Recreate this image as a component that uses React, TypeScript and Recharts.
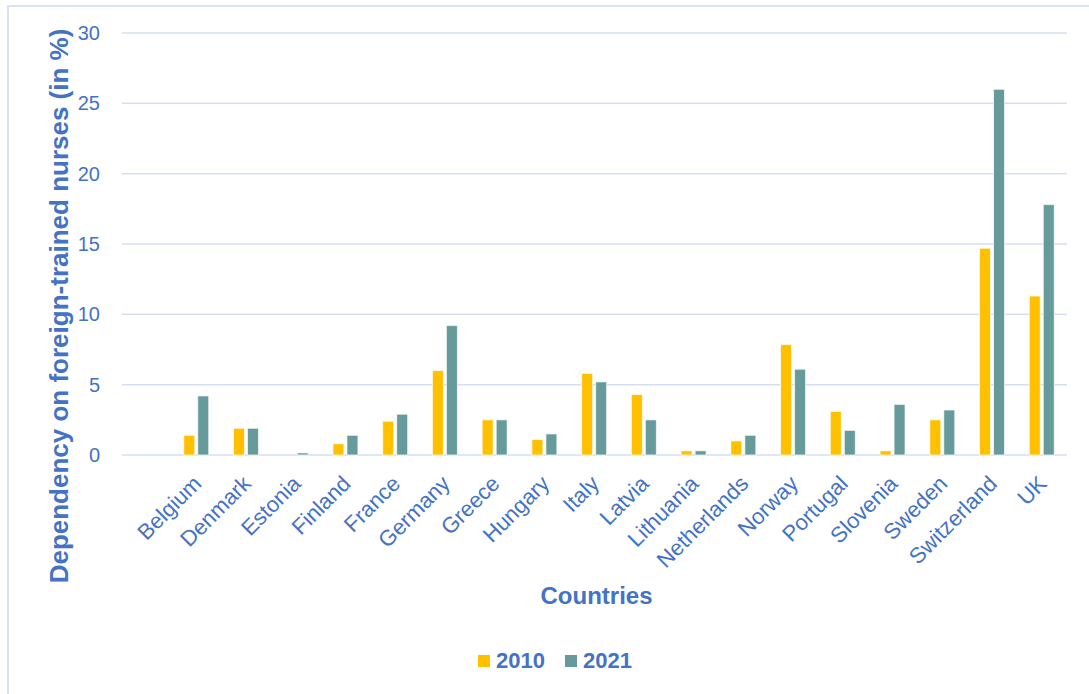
import React from 'react';
import { BarChart, Bar, XAxis, YAxis, CartesianGrid, Legend } from 'recharts';

// first slot is left empty, as in the original sheet
const countries = ['', 'Belgium', 'Denmark', 'Estonia', 'Finland', 'France', 'Germany', 'Greece', 'Hungary', 'Italy', 'Latvia', 'Lithuania', 'Netherlands', 'Norway', 'Portugal', 'Slovenia', 'Sweden', 'Switzerland', 'UK'];
const values2010 = [null, 1.4, 1.9, 0, 0.8, 2.4, 6.0, 2.5, 1.1, 5.8, 4.3, 0.3, 1.0, 7.85, 3.1, 0.3, 2.5, 14.7, 11.3];
const values2021 = [null, 4.2, 1.9, 0.15, 1.4, 2.9, 9.2, 2.5, 1.5, 5.2, 2.5, 0.3, 1.4, 6.1, 1.75, 3.6, 3.2, 26.0, 17.8];
const yTicks = [0, 5, 10, 15, 20, 25, 30];

const seriesColors = { y2010: '#FFC000', y2021: '#679B9B' };
const textBlue = '#4472C4';
const font = '"Liberation Sans", Arial, sans-serif';

const chartData = countries.map((country, i) => ({
  country,
  y2010: values2010[i],
  y2021: values2021[i]
}));

const CountryTick = (props: any) => {
  const { x, y, payload } = props;
  const tx = x + 6;
  const ty = y + 30;
  return (
    <text
      x={tx}
      y={ty}
      transform={`rotate(-45, ${tx}, ${ty})`}
      textAnchor="end"
      fill={textBlue}
      fontSize={22}
      fontFamily={font}
    >
      {payload.value}
    </text>
  );
};

const LegendContent = () => (
  <div style={{ height: 68, display: 'flex', justifyContent: 'center', alignItems: 'flex-end', paddingLeft: 21, boxSizing: 'border-box' }}>
    {[
      { label: '2010', color: seriesColors.y2010 },
      { label: '2021', color: seriesColors.y2021 }
    ].map((item, i) => (
      <div key={item.label} style={{ display: 'flex', alignItems: 'center', marginLeft: i === 0 ? 0 : 20, height: 24 }}>
        <span style={{ width: 12, height: 12, background: item.color, display: 'inline-block', marginRight: 6 }} />
        <span style={{ color: textBlue, fontFamily: font, fontWeight: 'bold', fontSize: 22 }}>{item.label}</span>
      </div>
    ))}
  </div>
);

const App: React.FC = () => {
  return (
    <div style={{ position: 'absolute', left: 0, top: 0, width: 1089, height: 694, background: '#fff', overflow: 'hidden' }}>
      {/* frame of the original chart (cropped on right and bottom) */}
      <div style={{ position: 'absolute', left: 7, top: 5, width: 1100, height: 700, borderTop: '2px solid #DAE3F3', borderLeft: '2px solid #DAE3F3' }} />
      <div style={{ position: 'absolute', left: 0, top: 0 }}>
        <BarChart
          width={1089}
          height={694}
          data={chartData}
          margin={{ top: 33, right: 22, left: 0, bottom: 21 }}
          barSize={11}
          barGap={3}
        >
          <CartesianGrid vertical={false} stroke="#D5DFF1" strokeWidth={1.5} />
          <XAxis
            dataKey="country"
            interval={0}
            height={150}
            tickLine={false}
            axisLine={false}
            tickSize={0}
            tickMargin={0}
            tick={<CountryTick />}
            label={{
              content: (p: any) => {
                const vb = p.viewBox;
                return (
                  <text x={vb.x + vb.width / 2 + 2} y={vb.y + 149} textAnchor="middle" fill={textBlue} fontSize={24} fontWeight="bold" fontFamily={font}>
                    Countries
                  </text>
                );
              }
            }}
          />
          <YAxis
            width={122}
            domain={[0, 30]}
            ticks={yTicks}
            tickLine={false}
            axisLine={false}
            tickSize={0}
            tickMargin={22}
            tick={{ fill: textBlue, fontSize: 20, fontFamily: font }}
            label={{
              content: () => (
                <text transform="translate(68, 306) rotate(-90)" x={0} y={0} textAnchor="middle" fill={textBlue} fontSize={26} fontWeight="bold" fontFamily={font}>
                  Dependency on foreign-trained nurses (in %)
                </text>
              )
            }}
          />
          <Legend verticalAlign="bottom" width={1089} wrapperStyle={{ left: 0 }} content={<LegendContent />} />
          <Bar dataKey="y2010" name="2010" fill={seriesColors.y2010} stroke="#ffffff" strokeOpacity={0.7} strokeWidth={1} isAnimationActive={false} />
          <Bar dataKey="y2021" name="2021" fill={seriesColors.y2021} stroke="#ffffff" strokeOpacity={0.7} strokeWidth={1} isAnimationActive={false} />
        </BarChart>
      </div>
    </div>
  );
};

export default App;
